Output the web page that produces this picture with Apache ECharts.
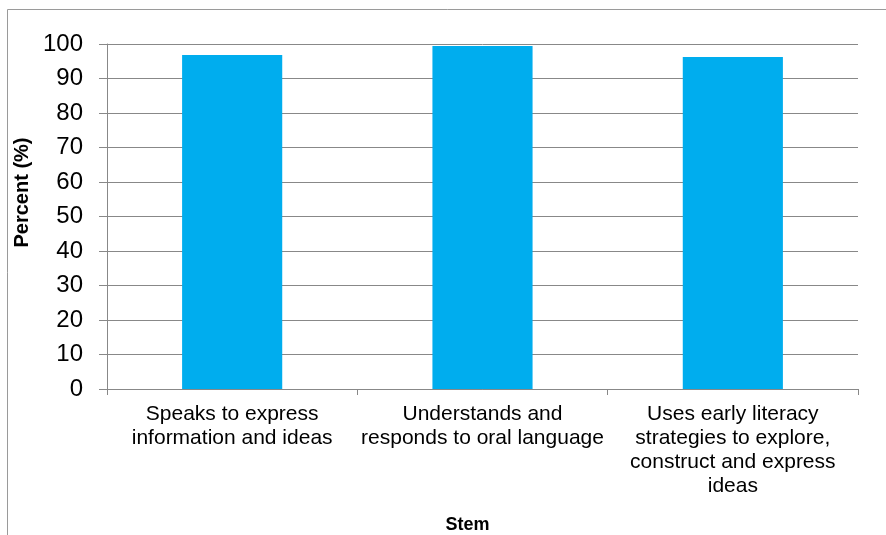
<!DOCTYPE html>
<html>
<head>
<meta charset="utf-8">
<script src="https://cdn.jsdelivr.net/npm/echarts@6/dist/echarts.min.js"></script>
<style>
  html, body { margin: 0; padding: 0; background: #fff; }
  #chart { width: 886px; height: 535px; }
</style>
</head>
<body>
<div id="chart"></div>
<script>
// Stem outcomes and the percentage achieving each
const categories = [
  'Speaks to express\ninformation and ideas',
  'Understands and\nresponds to oral language',
  'Uses early literacy\nstrategies to explore,\nconstruct and express\nideas'
];
const percentValues = [96.8, 99.4, 96.2];
const yTicks = { min: 0, max: 100, interval: 10 };

const FONT = '"Liberation Sans", Arial, sans-serif';
const GRID_GRAY = '#888888';

const chart = echarts.init(document.getElementById('chart'), null, { renderer: 'canvas' });

chart.setOption({
  animation: false,
  backgroundColor: '#ffffff',
  graphic: [{
    type: 'rect',
    shape: { x: 7.5, y: 9.5, width: 1000, height: 1000 },
    style: { fill: 'none', stroke: '#9a9a9a', lineWidth: 1 },
    silent: true
  }],
  grid: {
    left: 107, right: 28, top: 44, bottom: 146,
    containLabel: false,
    outerBoundsMode: 'none'
  },
  xAxis: {
    type: 'category',
    data: categories,
    name: 'Stem',
    nameLocation: 'middle',
    nameGap: 127,
    nameTextStyle: { fontFamily: FONT, fontSize: 18, fontWeight: 'bold', color: '#000', padding: [0, 30, 0, 0] },
    axisLine: { show: true, lineStyle: { color: GRID_GRAY, width: 1 } },
    axisTick: { show: true, length: 6, lineStyle: { color: GRID_GRAY } },
    axisLabel: {
      interval: 0,
      margin: 13,
      fontFamily: FONT,
      fontSize: 21,
      lineHeight: 24,
      color: '#000',
      align: 'center'
    },
    splitLine: { show: false }
  },
  yAxis: {
    type: 'value',
    min: yTicks.min,
    max: yTicks.max,
    interval: yTicks.interval,
    name: 'Percent (%)',
    nameLocation: 'middle',
    nameRotate: 90,
    nameGap: 75,
    nameTextStyle: { fontFamily: FONT, fontSize: 20, fontWeight: 'bold', color: '#000', padding: [0, 0, 0, 48] },
    axisLine: { show: true, lineStyle: { color: GRID_GRAY, width: 1 } },
    axisTick: { show: true, length: 8, lineStyle: { color: GRID_GRAY } },
    axisLabel: { margin: 24, fontFamily: FONT, fontSize: 24, color: '#000' },
    splitLine: { show: true, lineStyle: { color: GRID_GRAY, width: 1 } }
  },
  series: [{
    type: 'bar',
    data: percentValues,
    barWidth: '40%',
    itemStyle: { color: '#00ADEE' }
  }]
});
</script>
</body>
</html>
